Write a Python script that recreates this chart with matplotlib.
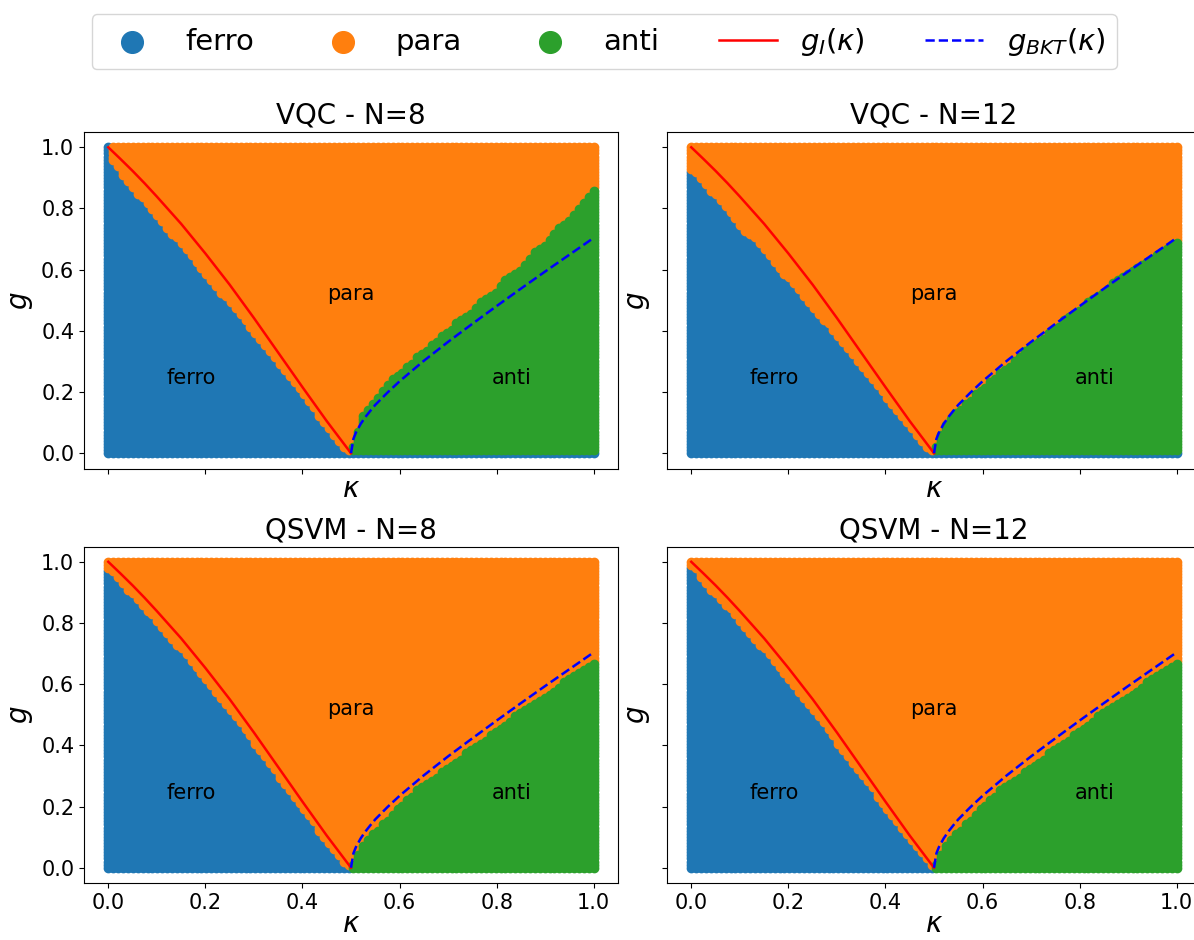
import numpy as np
import matplotlib
matplotlib.use("Agg")
import matplotlib.pyplot as plt

# grid of (kappa, g) points that were classified
n_grid = 100
kappa_grid = np.linspace(0, 1, n_grid)
g_grid = np.linspace(0, 1, n_grid)

# theoretical transition lines
kappa_ising = [0.0, 0.025, 0.05, 0.075, 0.1, 0.15, 0.2, 0.25, 0.3, 0.35, 0.4, 0.45, 0.5]
g_ising = [1.0, 0.962, 0.923, 0.882, 0.839, 0.750, 0.653, 0.551, 0.442, 0.329, 0.216, 0.105, 0.0]
kappa_bkt = [0.5, 0.505, 0.51, 0.52, 0.53, 0.54, 0.55, 0.575, 0.6, 0.65, 0.7, 0.75, 0.8, 0.85, 0.9, 0.95, 1.0]
g_bkt = [0.0, 0.047, 0.067, 0.096, 0.119, 0.139, 0.158, 0.198, 0.235, 0.302, 0.364, 0.423, 0.481, 0.538, 0.594, 0.649, 0.704]

# upper edge of the predicted ferro region (kappa <= 0.5)
kappa_ferro = [0.0, 0.01, 0.025, 0.05, 0.075, 0.1, 0.125, 0.15, 0.175, 0.2, 0.225,
               0.25, 0.275, 0.3, 0.325, 0.35, 0.375, 0.4, 0.425, 0.45, 0.475, 0.5]
ferro_vqc8 = [1.0, 0.95, 0.92, 0.86, 0.83, 0.77, 0.72, 0.69, 0.63, 0.59, 0.53,
              0.50, 0.45, 0.40, 0.34, 0.30, 0.25, 0.19, 0.14, 0.08, 0.03, 0.0]
ferro_vqc12 = [0.92, 0.91, 0.88, 0.84, 0.79, 0.74, 0.71, 0.66, 0.61, 0.57, 0.52,
               0.47, 0.43, 0.38, 0.33, 0.28, 0.23, 0.18, 0.13, 0.08, 0.03, 0.0]
ferro_qsvm8 = [0.97, 0.96, 0.93, 0.89, 0.85, 0.80, 0.76, 0.71, 0.67, 0.62, 0.57,
               0.52, 0.47, 0.41, 0.36, 0.30, 0.25, 0.19, 0.14, 0.08, 0.03, 0.0]
ferro_qsvm12 = [0.98, 0.97, 0.93, 0.89, 0.85, 0.81, 0.76, 0.71, 0.67, 0.62, 0.57,
                0.52, 0.47, 0.41, 0.36, 0.31, 0.25, 0.20, 0.14, 0.09, 0.04, 0.0]

# upper edge of the predicted anti region (kappa >= 0.5)
kappa_anti = [0.5, 0.525, 0.55, 0.575, 0.6, 0.625, 0.65, 0.675, 0.7, 0.725, 0.75,
              0.775, 0.8, 0.825, 0.85, 0.875, 0.9, 0.925, 0.95, 0.975, 1.0]
anti_vqc8 = [0.0, 0.13, 0.17, 0.23, 0.26, 0.30, 0.33, 0.37, 0.40, 0.44, 0.46,
             0.51, 0.53, 0.58, 0.60, 0.66, 0.68, 0.74, 0.76, 0.82, 0.86]
anti_vqc12 = [0.0, 0.10, 0.14, 0.18, 0.21, 0.25, 0.28, 0.32, 0.35, 0.38, 0.41,
              0.45, 0.47, 0.51, 0.53, 0.57, 0.59, 0.62, 0.64, 0.67, 0.69]
anti_qsvm8 = [0.0, 0.08, 0.12, 0.16, 0.20, 0.24, 0.27, 0.30, 0.33, 0.36, 0.39,
              0.42, 0.45, 0.48, 0.51, 0.54, 0.56, 0.59, 0.62, 0.65, 0.67]
anti_qsvm12 = [0.0, 0.08, 0.12, 0.16, 0.20, 0.24, 0.27, 0.30, 0.33, 0.36, 0.39,
               0.42, 0.45, 0.48, 0.51, 0.54, 0.56, 0.59, 0.62, 0.65, 0.67]

titles = ["VQC - N=8", "VQC - N=12", "QSVM - N=8", "QSVM - N=12"]
ferro_edges = [ferro_vqc8, ferro_vqc12, ferro_qsvm8, ferro_qsvm12]
anti_edges = [anti_vqc8, anti_vqc12, anti_qsvm8, anti_qsvm12]
# the VQC models put the whole g=0 row into the ferro phase
bottom_row_ferro = [True, True, False, False]

phase_names = ["ferro", "para", "anti"]
phase_colors = ["#1f77b4", "#ff7f0e", "#2ca02c"]


def classify(ferro_edge, anti_edge, ferro_bottom):
    K, G = np.meshgrid(kappa_grid, g_grid)
    K = K.ravel()
    G = G.ravel()
    fe = np.interp(K, kappa_ferro, ferro_edge)
    ae = np.interp(K, kappa_anti, anti_edge)
    label = np.ones(K.size, dtype=int)
    label[(K <= 0.5) & (G <= fe)] = 0
    label[(K > 0.5) & (G <= ae)] = 2
    if ferro_bottom:
        label[G == 0] = 0
    return K, G, label


fig = plt.figure(figsize=(11.94, 9.4), dpi=100)
W, H = 1194, 940
boxes = [(84, 132), (667, 132), (84, 546.5), (667, 546.5)]
ax_w, ax_h = 534, 336.5

axes = []
for i, (x0, y0) in enumerate(boxes):
    ax = fig.add_axes([x0 / W, 1 - (y0 + ax_h) / H, ax_w / W, ax_h / H])
    axes.append(ax)
    K, G, label = classify(ferro_edges[i], anti_edges[i], bottom_row_ferro[i])
    for p in range(3):
        m = label == p
        ax.scatter(K[m], G[m], s=36, color=phase_colors[p], label=phase_names[p])
    ax.plot(kappa_ising, g_ising, color="red", lw=1.8, label=r"$g_I(\kappa)$")
    ax.plot(kappa_bkt, g_bkt, color="blue", ls="--", lw=1.8, label=r"$g_{BKT}(\kappa)$")

    ax.text(0.17, 0.245, "ferro", fontsize=15, ha="center", va="center")
    ax.text(0.5, 0.52, "para", fontsize=15, ha="center", va="center")
    ax.text(0.83, 0.245, "anti", fontsize=15, ha="center", va="center")

    ax.set_xlim(-0.05, 1.05)
    ax.set_ylim(-0.05, 1.05)
    ax.set_xticks([0, 0.2, 0.4, 0.6, 0.8, 1.0])
    ax.set_yticks([0, 0.2, 0.4, 0.6, 0.8, 1.0])
    ax.tick_params(labelsize=15)
    ax.set_title(titles[i], fontsize=20)
    ax.set_xlabel(r"$\kappa$", fontsize=20, labelpad=-2)
    ax.set_ylabel(r"$g$", fontsize=20)
    if i < 2:
        ax.set_xticklabels([])
    if i % 2 == 1:
        ax.set_yticklabels([])

handles, labels = axes[0].get_legend_handles_labels()
fig.legend(handles, labels, loc="upper center", bbox_to_anchor=(0.506, 0.985),
           borderaxespad=0, ncol=5, fontsize=21, markerscale=2.6, columnspacing=2.05)

fig.savefig("out.png", dpi=100)
